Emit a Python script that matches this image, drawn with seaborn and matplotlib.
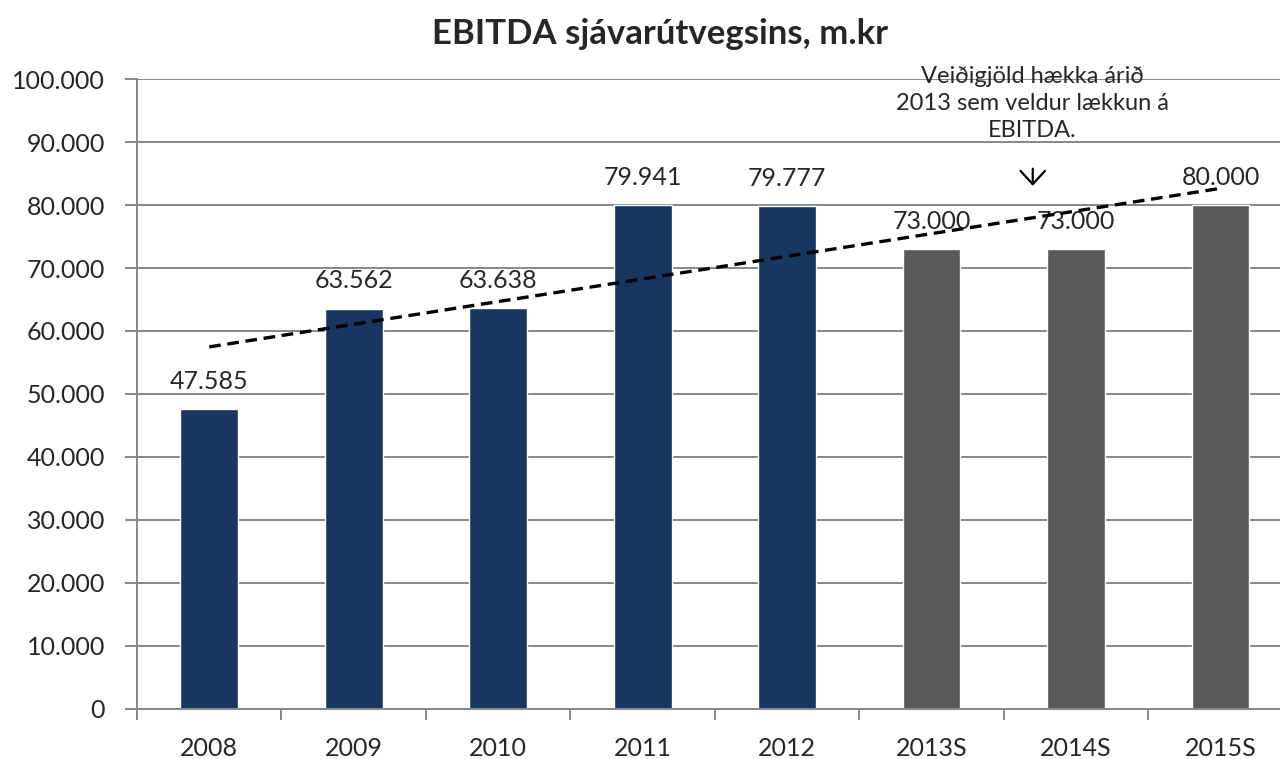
#!/usr/bin/env python3
#
# EBITDA sjavarutvegsins, bar chart with linear trend
#
import numpy as np
import matplotlib
matplotlib.use('Agg')
import matplotlib.pyplot as plt
from matplotlib.ticker import FuncFormatter, FixedLocator
import seaborn as sns


# Data
years = ['2008', '2009', '2010', '2011', '2012', '2013S', '2014S', '2015S']
ebitda = [47585, 63562, 63638, 79941, 79777, 73000, 73000, 80000]
forecast = [False, False, False, False, False, True, True, True]

title = 'EBITDA sjávarútvegsins, m.kr'
note = 'Veiðigjöld hækka árið\n2013 sem veldur lækkun á\nEBITDA.'

navy = '#17375E'
grey = '#595959'
gridc = '#878787'

sns.set_style('white')
plt.rcParams['font.family'] = ['Lato', 'DejaVu Sans']


def thousands(v, pos=None):
    return '{:,.0f}'.format(v).replace(',', '.')


#
# Create figure
#
fig = plt.figure(figsize=(12.8, 7.59), dpi=100)
ax = fig.add_axes([0.107, 0.0659, 0.903, 0.830])

colors = [grey if f else navy for f in forecast]
sns.barplot(x=years, y=ebitda, hue=years, palette=colors, legend=False,
            width=0.4, saturation=1, ax=ax, zorder=2)

# Linear trend line through the bar centres
sns.regplot(x=np.arange(len(years)), y=ebitda, scatter=False, ci=None,
            truncate=True, ax=ax,
            line_kws=dict(color='black', lw=2.4, ls=(0, (3.5, 2)), zorder=4))

# Data labels
for i, v in enumerate(ebitda):
    ax.annotate(thousands(v), (i, v), xytext=(0, 14.5),
                textcoords='offset points', ha='center', va='baseline',
                fontsize=18, zorder=3)

# Note with arrow
ax.text(5.7, 96100, note, ha='center', va='center', fontsize=17,
        linespacing=1.35, clip_on=False, zorder=5)
ax.annotate('', xy=(5.7, 82600), xytext=(5.7, 86200),
            arrowprops=dict(arrowstyle='->,head_length=0.6,head_width=0.55',
                            lw=1.6, color='black', mutation_scale=16))

# Axes
ax.set_xlim(-0.5, len(years) - 0.5)
ax.set_ylim(0, 100000)
ax.set_yticks(np.arange(0, 100001, 10000))
ax.yaxis.set_major_formatter(FuncFormatter(thousands))
ax.yaxis.grid(True, color=gridc, lw=1.4, zorder=0)
ax.set_axisbelow(True)

ax.xaxis.set_minor_locator(FixedLocator(np.arange(-0.5, len(years), 1.0)))
ax.tick_params(axis='x', which='major', length=0, pad=20, labelsize=18)
ax.tick_params(axis='x', which='minor', length=8, width=1.4, color=gridc,
               direction='out', bottom=True)
ax.tick_params(axis='y', length=9, width=1.4, color=gridc, direction='out',
               pad=14, labelsize=18, left=True)

for side in ['top', 'right']:
    ax.spines[side].set_visible(False)
for side in ['left', 'bottom']:
    ax.spines[side].set_color(gridc)
    ax.spines[side].set_linewidth(1.4)

ax.set_xlabel('')
ax.set_ylabel('')
fig.text(0.516, 0.955, title, ha='center', va='center', fontsize=25,
         fontweight='bold')

fig.savefig('out.png', dpi=100)
plt.close(fig)
